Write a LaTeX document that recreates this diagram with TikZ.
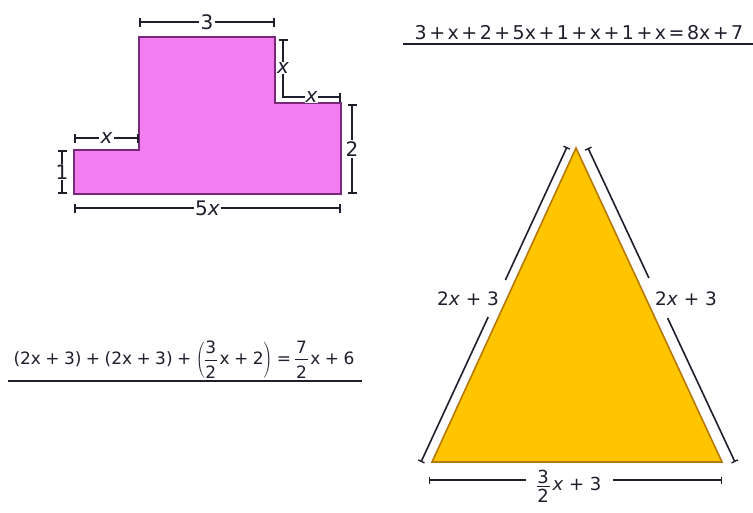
\documentclass[tikz,border=0pt]{standalone}
\usepackage{fontspec}
\setmainfont{DejaVu Sans}
\usetikzlibrary{arrows.meta}
\definecolor{pinkfill}{RGB}{241,125,241}
\definecolor{pinkline}{RGB}{120,40,120}
\definecolor{yelfill}{RGB}{255,198,0}
\definecolor{yelline}{RGB}{185,120,0}
\definecolor{dimc}{RGB}{30,30,45}
\newcommand{\myfr}[3]{\ensuremath{\vcenter{\hbox{\vbox{\offinterlineskip\halign{\hfil##\hfil\cr #2\cr\noalign{\kern#1}\rule{0.72em}{1.2pt}\cr\noalign{\kern#1}#3\cr}}}}}}
\newcommand{\tightsp}[1]{\spaceskip=#1em\relax}
\begin{document}
\begin{tikzpicture}[x=1pt,y=-1pt,
  dim/.style={line width=1.6pt, draw=dimc},
  capb/.style={{Bar[width=9pt,line width=1.6pt]}-{Bar[width=9pt,line width=1.6pt]}},
  capl/.style={{Bar[width=7pt,line width=1.4pt]}-},
  capr/.style={-{Bar[width=7pt,line width=1.4pt]}},
  lab/.style={fill=white, inner sep=1.5pt, text=dimc, font=\fontsize{20}{22}\selectfont},
  tlab/.style={inner sep=1pt, text=dimc, font=\fontsize{18.5}{20}\selectfont},
  eq/.style={inner sep=0pt, text=dimc},
  shapeline/.style={line width=1.6pt}]
\useasboundingbox (0,0) rectangle (753,512);

% ---------- pink shape ----------
\coordinate (p1) at (139,37);
\coordinate (p2) at (275,37);
\coordinate (p3) at (275,103);
\coordinate (p4) at (341,103);
\coordinate (p5) at (341,194);
\coordinate (p6) at (74,194);
\coordinate (p7) at (74,150);
\coordinate (p8) at (139,150);
\draw[shapeline, draw=pinkline, fill=pinkfill] (p1) -- (p2) -- (p3) -- (p4) -- (p5) -- (p6) -- (p7) -- (p8) -- cycle;

% dimension lines of pink shape
\draw[dim, capb] (139,22) -- node[lab] (l3) {3} (275,22);
\draw[dim, {Bar[width=9pt,line width=1.6pt]}-] (283,39) -- node[lab, inner sep=0.5pt] (lxv) {\textit{x}} (283,97);
\draw[dim, -{Bar[width=9pt,line width=1.6pt]}] (282.2,97) -- node[lab, inner sep=0.5pt] (lxh) {\textit{x}} (341,97);
\draw[dim, capb] (352,104) -- node[lab] (l2) {2} (352,194);
\draw[dim, capb] (74,138) -- node[lab] (lxl) {\textit{x}} (139,138);
\draw[dim, capb] (62,150) -- node[lab, inner sep=0.5pt] (l1) {1} (62,194);
\draw[dim, capb] (74,208) -- node[lab] (l5x) {5\textit{x}} (341,208);

% ---------- top equation ----------
\node[eq, font=\fontsize{19}{21}\selectfont, anchor=base] (eq1) at (579,39) {\tightsp{0.13}3 + x + 2 + 5x + 1 + x + 1 + x = 8x + 7};
\coordinate (u1a) at (403,44);
\coordinate (u1b) at (753,44);
\draw[line width=1.6pt, dimc] (u1a) -- (u1b);

% ---------- bottom-left equation ----------
\node[eq, font=\fontsize{17}{19}\selectfont] (eq2) at (184,360)
  {\tightsp{0.26}(2x + 3) + (2x + 3) + $\left(\myfr{5.5pt}{3}{2}\mbox{\tightsp{0.26}\,x + 2}\right)$ = \myfr{5.5pt}{7}{2}\,x + 6};
\coordinate (u2a) at (8,381);
\coordinate (u2b) at (362,381);
\draw[line width=1.6pt, dimc] (u2a) -- (u2b);

% ---------- triangle ----------
\coordinate (A) at (576,148);
\coordinate (B) at (432,462);
\coordinate (C) at (722,462);
\draw[shapeline, draw=yelline, fill=yelfill, line join=miter] (A) -- (B) -- (C) -- cycle;

% left side dimension
\coordinate (la) at (421,462);
\coordinate (lb) at (488.2,317);
\coordinate (lc) at (505.4,280);
\coordinate (ld) at (567,147);
\draw[dim, capl] (la) -- (lb);
\draw[dim, capr] (lc) -- (ld);
\node[tlab] (tl) at (468,299) {2\textit{x} + 3};

% right side dimension
\coordinate (ra) at (588,148);
\coordinate (rb) at (648.9,278);
\coordinate (rc) at (667.6,318);
\coordinate (rd) at (735,462);
\draw[dim, capl] (ra) -- (rb);
\draw[dim, capr] (rc) -- (rd);
\node[tlab] (tr) at (686,299) {2\textit{x} + 3};

% bottom dimension
\coordinate (ba) at (429,480);
\coordinate (bb) at (526,480);
\coordinate (bc) at (613,480);
\coordinate (bd) at (722,480);
\draw[dim, capl] (ba) -- (bb);
\draw[dim, capr] (bc) -- (bd);
\node[tlab, font=\fontsize{18}{20}\selectfont] (tb) at (569,486) {\myfr{2pt}{3}{2}\,\textit{x} + 3};
\end{tikzpicture}
\end{document}
